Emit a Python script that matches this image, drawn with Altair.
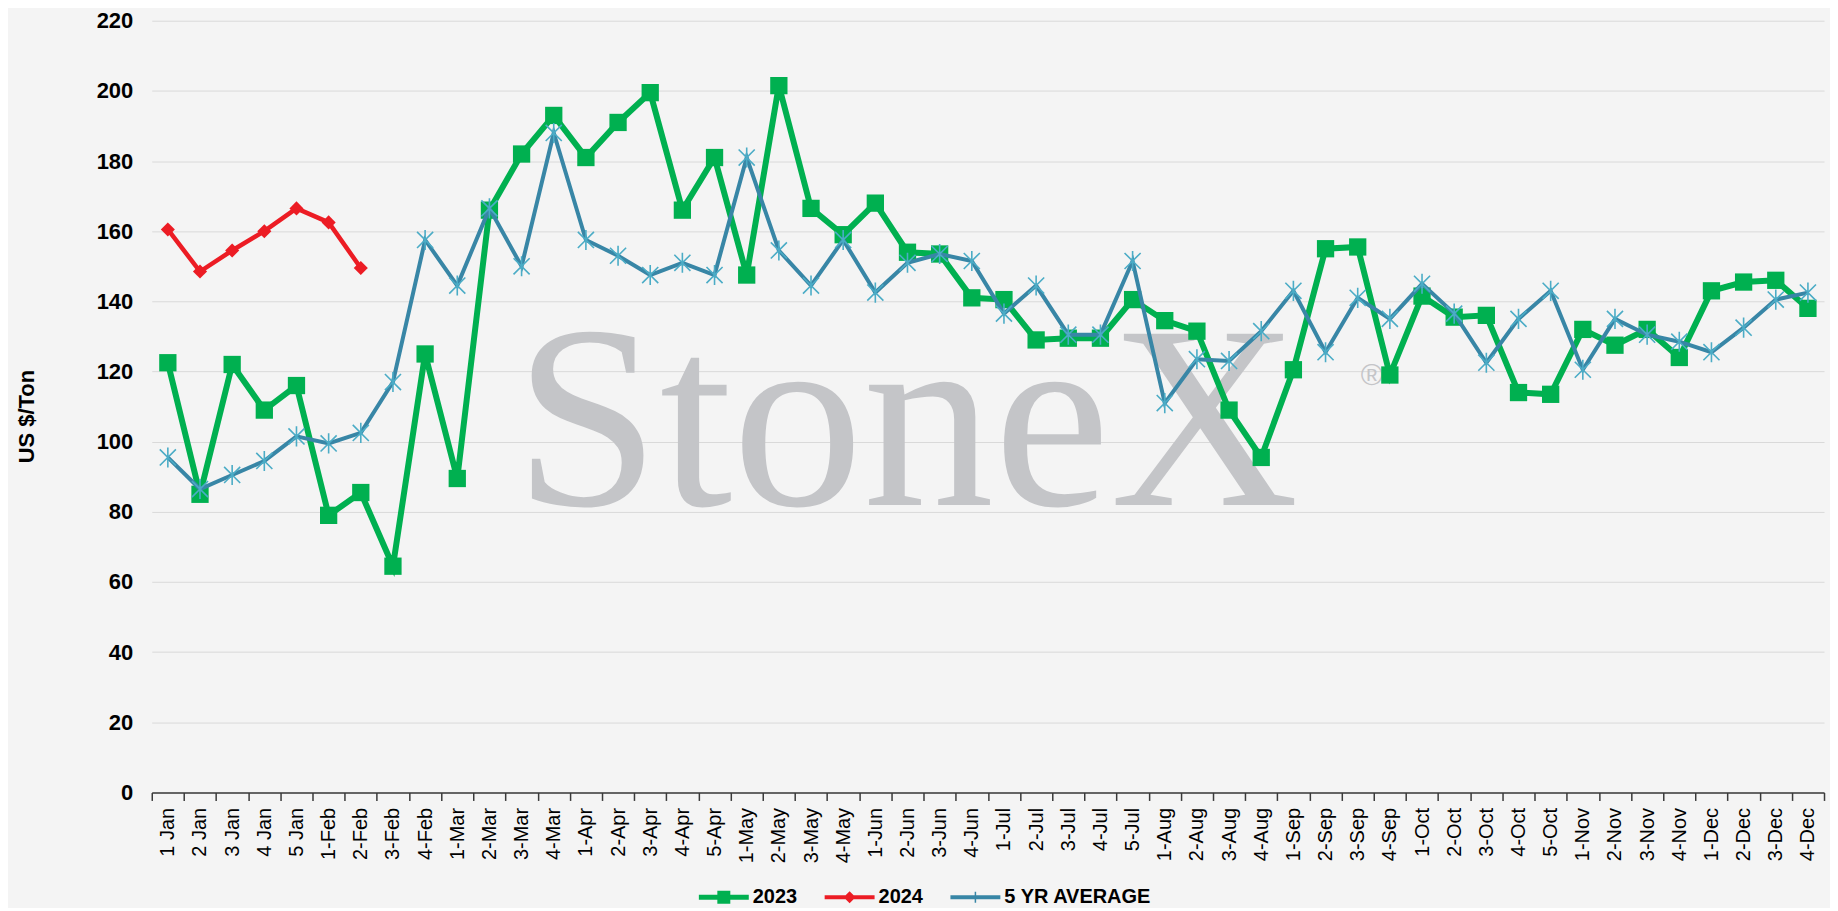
import altair as alt
import pandas as pd

weeks = ["1 Jan", "2 Jan", "3 Jan", "4 Jan", "5 Jan",
         "1-Feb", "2-Feb", "3-Feb", "4-Feb",
         "1-Mar", "2-Mar", "3-Mar", "4-Mar",
         "1-Apr", "2-Apr", "3-Apr", "4-Apr", "5-Apr",
         "1-May", "2-May", "3-May", "4-May",
         "1-Jun", "2-Jun", "3-Jun", "4-Jun",
         "1-Jul", "2-Jul", "3-Jul", "4-Jul", "5-Jul",
         "1-Aug", "2-Aug", "3-Aug", "4-Aug",
         "1-Sep", "2-Sep", "3-Sep", "4-Sep",
         "1-Oct", "2-Oct", "3-Oct", "4-Oct", "5-Oct",
         "1-Nov", "2-Nov", "3-Nov", "4-Nov",
         "1-Dec", "2-Dec", "3-Dec", "4-Dec"]

y2023 = [122.5, 85, 122, 109, 116,
         79, 85.5, 64.5, 125,
         89.5, 166, 182, 193,
         181, 191, 199.5, 166, 181,
         147.5, 201.5, 166.5, 159,
         168, 154, 153.5, 141,
         140.5, 129, 129.5, 129.5, 140.5,
         134.5, 131.5, 109, 95.5,
         120.5, 155, 155.5, 119,
         141.5, 135.5, 136, 114, 113.5,
         132, 127.5, 132, 124,
         143, 145.5, 146, 138]

y2024 = [160.5, 148.5, 154.5, 160, 166.5, 162.5, 149.5]

avg5 = [95.5, 86.5, 90.5, 94.5, 101.5,
        99.5, 102.5, 117, 157.5,
        144.5, 166.5, 150, 188,
        157.5, 153, 147.5, 151, 147.5,
        181, 154.5, 144.5, 157.5,
        142.5, 151, 153.5, 151.5,
        136.5, 144.5, 130.5, 130.5, 151.5,
        111, 123.5, 123, 131.5,
        143, 125.5, 141, 135,
        145, 136.5, 122.5, 135, 143,
        120.5, 135, 130.5, 128.5,
        125.5, 132.5, 140.5, 142.5]

series_names = ["2023", "2024", "5 YR AVERAGE"]
series_colors = ["#00b050", "#ec1c24", "#3886a6"]
marker_blue = "#4bacc6"
y_ticks = list(range(0, 221, 20))
watermark = ["StoneX"]

FONT = "Liberation Sans"

d23 = pd.DataFrame({"week": weeks, "value": y2023})
d24 = pd.DataFrame({"week": weeks[:len(y2024)], "value": y2024})
dav = pd.DataFrame({"week": weeks, "value": avg5})

x_enc = alt.X(
    "week:N", sort=weeks,
    scale=alt.Scale(type="band", domain=weeks, paddingInner=0, paddingOuter=0),
    axis=alt.Axis(title=None, labelAngle=-90, labelFont=FONT, labelFontSize=20,
                  labelColor="#000000", labelPadding=7, tickBand="extent",
                  tickSize=8, tickColor="#3a3a3a", tickWidth=1.5,
                  domainColor="#3a3a3a", domainWidth=1.5, grid=False),
)
y_enc = alt.Y(
    "value:Q",
    scale=alt.Scale(domain=[0, 220], nice=False, zero=True),
    axis=alt.Axis(values=y_ticks, title="US $/Ton", titleFont=FONT, titleFontSize=22,
                  titleFontWeight="bold", titleColor="#000000", titleAngle=270,
                  titleX=-125, titleY=396, titleAlign="center", titleBaseline="middle",
                  labelFont=FONT, labelFontSize=22, labelFontWeight="bold",
                  labelColor="#000000", labelPadding=19, ticks=False, tickSize=0,
                  domain=False, grid=True, gridColor="#d9d9d9", gridWidth=1),
)

wm = alt.Chart(pd.DataFrame({"t": watermark})).mark_text(
    font="Liberation Serif", fontSize=262, color="#c4c5c8", align="center",
    baseline="alphabetic"
).encode(text="t:N", x=alt.value(756), y=alt.value(485))

reg = alt.Chart(pd.DataFrame({"t": ["®"]})).mark_text(
    font=FONT, fontSize=30, color="#c4c5c8", align="center", baseline="middle"
).encode(text="t:N", x=alt.value(1222), y=alt.value(356))

grid_base = alt.Chart(d23).mark_line(opacity=0).encode(x=x_enc, y=y_enc)

line23 = alt.Chart(d23).mark_line(color=series_colors[0], strokeWidth=6).encode(
    x=alt.X("week:N", sort=weeks), y="value:Q")
pts23 = alt.Chart(d23).mark_point(shape="square", filled=True, size=300,
                                  color=series_colors[0], opacity=1).encode(
    x=alt.X("week:N", sort=weeks), y="value:Q")

line24 = alt.Chart(d24).mark_line(color=series_colors[1], strokeWidth=4.5).encode(
    x=alt.X("week:N", sort=weeks), y="value:Q")
pts24 = alt.Chart(d24).mark_point(shape="diamond", filled=True, size=200,
                                  color=series_colors[1], opacity=1).encode(
    x=alt.X("week:N", sort=weeks), y="value:Q")

lineav = alt.Chart(dav).mark_line(color=series_colors[2], strokeWidth=4).encode(
    x=alt.X("week:N", sort=weeks), y="value:Q")
ptsav = alt.Chart(dav).mark_point(
    shape="M-1,-1L1,1M-1,1L1,-1M0,-1.25L0,1.25", filled=False, size=260,
    color=marker_blue, strokeWidth=1.6, opacity=1).encode(
    x=alt.X("week:N", sort=weeks), y="value:Q")

legend_paths = [
    "M-1,-0.1H1V0.1H-1Z M-0.26,-0.26H0.26V0.26H-0.26Z",
    "M-1,-0.08H1V0.08H-1Z M0,-0.24L0.24,0L0,0.24L-0.24,0Z",
    "M-1,-0.08H1V0.08H-1Z M-0.03,-0.22H0.03V0.22H-0.03Z",
]
leg_props = dict(title=None, orient="none", legendX=548, legendY=853,
                 direction="horizontal", labelFont=FONT, labelFontSize=20,
                 labelFontWeight="bold", labelColor="#000000", labelOffset=4,
                 columnPadding=27, symbolSize=2500, symbolOpacity=1,
                 symbolStrokeWidth=0)
legend_layer = alt.Chart(pd.DataFrame({"series": series_names})).mark_point(
    filled=True, size=2500, clip=True).encode(
    x=alt.value(-300), y=alt.value(-300),
    color=alt.Color("series:N", sort=None,
                    scale=alt.Scale(domain=series_names, range=series_colors),
                    legend=alt.Legend(**leg_props)),
    shape=alt.Shape("series:N", sort=None,
                    scale=alt.Scale(domain=series_names, range=legend_paths),
                    legend=alt.Legend(**leg_props)),
)

chart = alt.layer(
    grid_base, wm, reg, line23, pts23, line24, pts24, lineav, ptsav, legend_layer
).properties(
    width=1675, height=773,
    autosize=alt.AutoSizeParams(type="none"),
    padding={"left": 144, "top": 12, "right": 6, "bottom": 115},
    background="#f4f4f4",
).configure_view(stroke=None)

chart.save("out.html", embed_options={"renderer": "svg", "actions": False})
